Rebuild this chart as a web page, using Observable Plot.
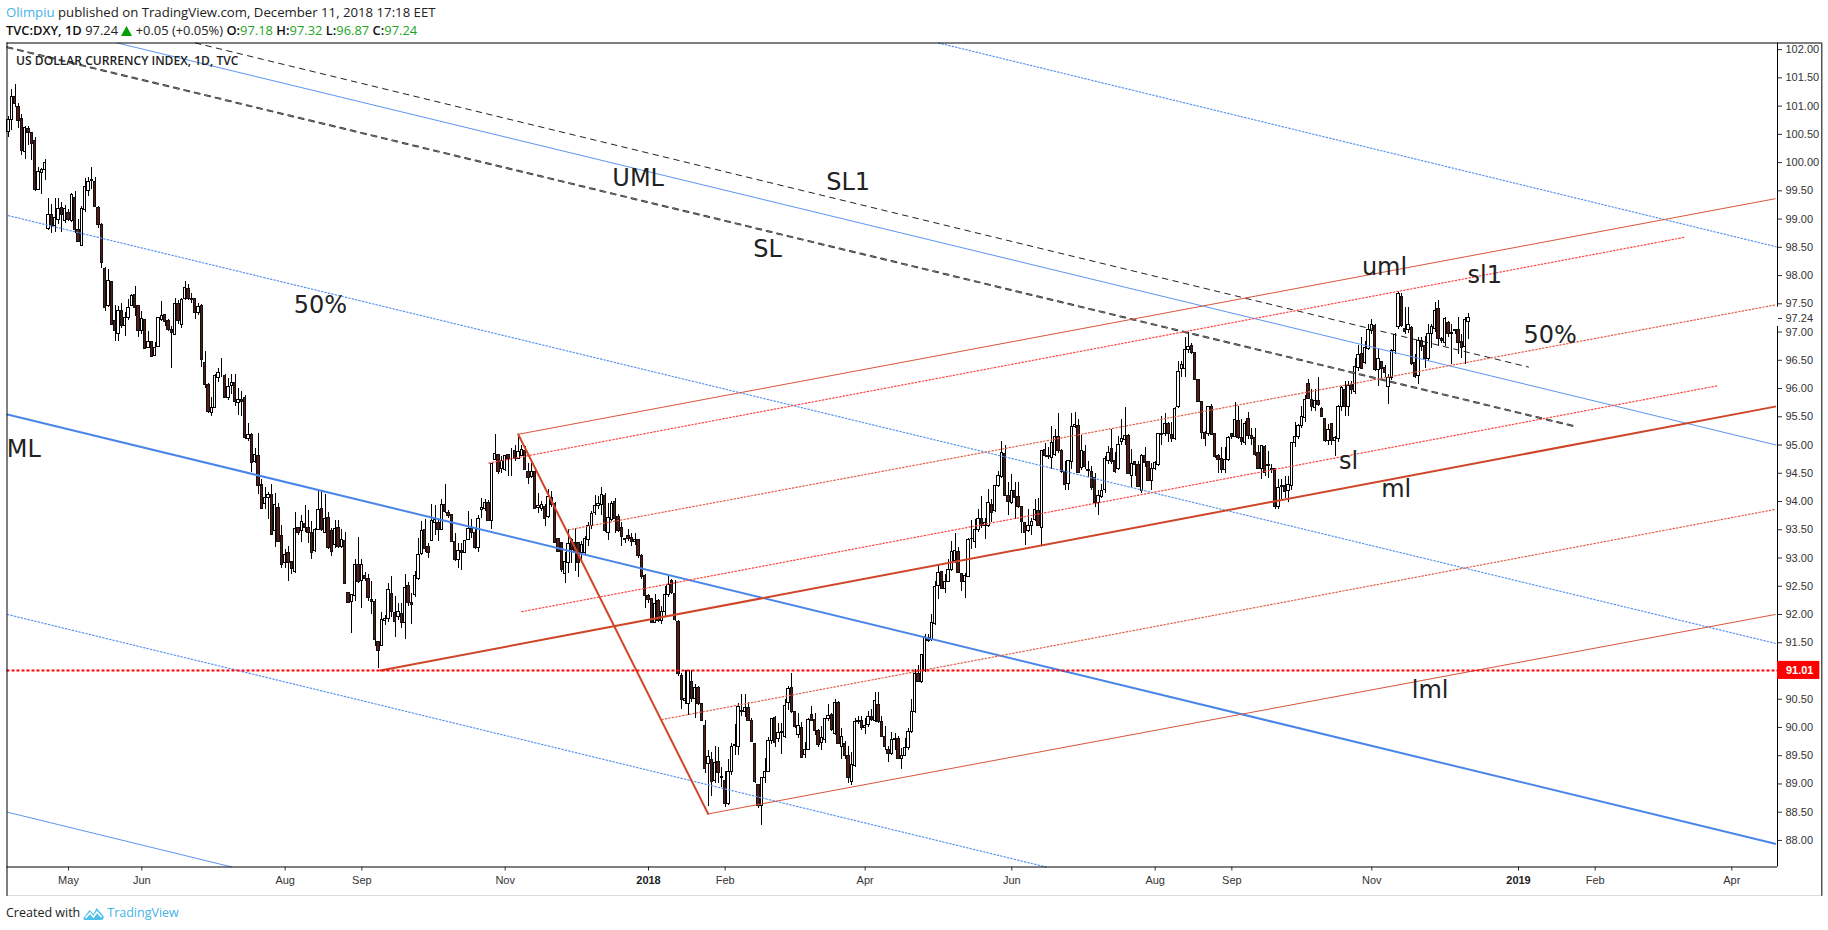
<!DOCTYPE html>
<html>
<head>
<meta charset="utf-8">
<script src="https://cdn.jsdelivr.net/npm/d3@7"></script>
<script src="https://cdn.jsdelivr.net/npm/@observablehq/plot@0.6"></script>
<style>
html,body{margin:0;padding:0;background:#fff;width:1828px;height:930px;overflow:hidden}
#head{height:42px;position:relative;font-family:"Open Sans",sans-serif;font-size:13.2px;color:#222}
#head div{position:absolute;left:6px;white-space:pre}
#l1{top:3px}
#l2{top:21px;font-size:12.9px}
#head .u{color:#45b3e7}
#head .b{font-weight:600;color:#111}
#head .g{color:#1ea51e}
#chart{height:854px;display:block}
#foot{position:absolute;left:6px;top:904px;font-family:"Open Sans",sans-serif;font-size:12.5px;color:#222;display:flex;align-items:center;gap:2px}
#foot span.tv{color:#45b3e7}
</style>
</head>
<body>
<div id="head">
<div id="l1"><span class="u">Olimpiu</span> published on TradingView.com, December 11, 2018 17:18 EET</div>
<div id="l2"><span class="b">TVC:DXY, 1D</span> 97.24 <svg width="11" height="10" viewBox="0 0 11 10" style="vertical-align:-1px"><path d="M5.5 0L11 10H0Z" fill="#00a000"/></svg> +0.05 (+0.05%) <span class="b">O:</span><span class="g">97.18</span> <span class="b">H:</span><span class="g">97.32</span> <span class="b">L:</span><span class="g">96.87</span> <span class="b">C:</span><span class="g">97.24</span></div>
</div>
<div id="chart"></div>
<div id="foot">Created with <svg width="23" height="16" viewBox="0 0 22 16"><path d="M1 13 L7 5 L11 9 L14 3 L21 11 Q22 15 18 15 L4 15 Q0 15 1 13Z" fill="#4fc0ea"/><path d="M3 13 L7.5 8 L11 12 L14.5 7 L19 12" fill="none" stroke="#fff" stroke-width="1.6"/></svg><span class="tv">TradingView</span></div>
<script>
const opens = [
100.55,100.76,101.16,100.98,100.77,100.18,100.6,100.53,100.38,99.52,99.82,99.86,98.83,99.08,98.87,98.98,99.2,98.96,99.11,98.96,
99.38,98.8,98.52,99.16,99.49,99.7,99.66,99.2,98.9,98.12,97.46,97.89,97.19,96.97,97.38,97.1,97.25,97.47,97.66,97.46,
97.01,97.22,96.71,96.82,96.57,96.73,97.21,97.3,97.19,97.04,96.94,97.5,97.13,97.58,97.77,97.58,97.58,97.34,97.47,96.45,
96.07,95.57,95.65,96.18,96.23,96.23,95.83,96.05,96.1,95.75,95.79,95.83,95.11,95.18,94.7,94.81,94.3,93.96,94.06,94.12,
93.47,93.88,93.39,92.91,93.09,92.93,92.76,93.53,93.47,93.6,93.53,93.45,93.12,93.49,93.87,93.45,93.71,93.47,93.23,93.53,
93.2,93.3,92.38,92.23,92.32,92.88,92.6,92.69,92.63,92.26,92.22,91.51,91.45,91.88,91.92,92.37,92.02,91.95,92.0,91.85,
92.51,92.2,92.35,92.62,93.07,93.5,93.19,93.3,93.62,93.62,93.5,93.94,93.8,93.76,93.29,92.97,93.12,93.09,93.32,93.52,
93.44,93.18,93.85,93.87,93.98,93.65,94.74,94.83,94.57,94.56,94.83,94.75,94.9,94.75,94.81,94.9,94.52,94.43,94.53,93.88,
93.87,93.91,93.72,94.06,93.95,93.33,93.26,92.72,92.92,93.31,93.27,93.26,93.09,93.09,93.32,93.56,93.8,93.92,93.94,94.09,
93.44,93.68,94.0,93.73,93.53,93.33,93.39,93.35,93.28,93.32,93.04,92.69,92.32,92.27,91.85,92.24,91.88,92.05,92.35,92.6,
92.37,91.86,90.91,90.47,90.42,90.8,90.5,90.7,90.41,90.03,89.35,89.43,89.05,89.38,89.1,89.05,88.65,89.21,89.67,89.65,
90.3,90.27,90.34,90.12,89.71,88.98,88.61,89.1,89.22,89.76,90.17,89.79,89.9,89.83,90.43,90.7,90.27,89.86,89.99,89.51,
89.61,90.22,90.13,89.94,89.72,89.78,90.15,90.22,89.89,90.43,89.66,89.71,89.5,89.04,89.32,90.09,90.12,89.99,90.05,90.18,
90.12,90.4,90.09,89.84,89.6,89.53,89.78,89.8,89.44,89.5,89.63,89.92,90.28,90.95,90.8,91.0,91.58,91.55,91.84,92.5,
92.75,92.46,92.58,92.78,92.94,93.1,92.71,92.57,92.67,93.34,93.28,93.5,93.69,93.56,93.56,93.94,93.83,94.28,94.43,94.85,
94.09,93.97,94.19,94.08,93.9,93.62,93.47,93.56,93.68,93.84,93.53,94.92,94.8,94.77,94.83,95.15,94.9,94.53,94.31,94.7,
95.32,95.34,94.6,94.88,94.56,94.53,94.41,93.98,94.08,94.2,94.72,94.93,94.72,94.58,95.05,95.09,95.16,94.45,94.7,94.64,
94.18,94.8,94.7,94.37,94.57,94.65,95.2,95.2,95.38,95.18,95.1,95.67,96.35,96.35,96.68,96.76,96.63,96.16,95.77,95.22,
95.2,95.68,95.2,94.81,94.75,94.55,94.73,95.2,95.15,95.42,95.12,95.04,95.46,95.16,95.12,94.86,94.58,94.96,94.64,94.57,
94.57,93.9,94.27,94.27,94.18,94.27,95.04,95.14,95.33,95.47,96.08,95.8,95.65,95.78,95.63,95.46,95.07,95.37,95.07,95.1,
95.67,95.98,95.68,96.06,95.94,96.36,96.62,96.46,96.7,97.01,97.1,96.32,96.47,96.36,96.03,96.19,96.66,97.09,97.62,97.05,
97.03,97.08,96.45,96.23,96.85,96.76,96.52,96.97,97.05,97.41,96.88,96.8,97.16,96.97,97.04,97.03,96.82,96.74,97.18];
const highs = [
100.82,101.29,101.38,101.05,100.85,100.64,100.64,100.53,100.44,99.92,99.9,100.06,99.36,99.26,99.36,99.36,99.29,99.24,99.17,99.45,
99.49,99.0,99.22,99.72,99.73,99.92,99.73,99.22,98.92,98.15,98.11,97.89,97.47,97.46,97.5,97.34,97.57,97.66,97.8,97.46,
97.36,97.22,97.01,96.82,96.82,97.25,97.54,97.31,97.22,97.1,97.6,97.55,97.6,97.9,97.84,97.69,97.58,97.5,97.49,96.66,
96.09,95.85,96.25,96.35,96.54,96.25,96.17,96.24,96.25,96.0,95.95,95.87,95.38,95.21,94.93,95.2,94.39,94.24,94.16,94.3,
94.14,93.97,93.57,93.15,93.2,92.93,93.8,93.53,93.76,93.93,93.84,93.65,93.53,94.18,94.18,94.12,93.8,93.53,93.67,93.66,
93.5,93.45,92.38,92.35,92.97,93.37,92.97,92.75,92.7,92.59,92.26,91.52,92.03,91.98,92.55,92.68,92.32,92.2,92.2,92.7,
92.57,92.38,92.76,93.34,93.65,93.69,93.26,93.94,93.93,93.68,94.03,94.3,93.84,93.76,93.43,93.26,93.26,93.3,93.83,93.68,
93.53,93.76,94.05,94.03,94.02,94.68,95.18,94.83,94.8,94.82,94.83,94.93,95.0,95.18,95.0,94.98,94.68,94.68,94.57,94.15,
94.0,93.94,94.21,94.18,93.98,93.33,93.26,93.09,93.5,93.35,93.53,93.26,93.3,93.38,93.62,93.82,94.1,94.08,94.24,94.15,
93.97,94.0,94.06,93.77,93.62,93.35,93.5,93.44,93.43,93.33,93.06,92.7,92.35,92.27,92.35,92.26,92.14,92.5,92.67,92.62,
92.6,91.9,90.96,91.0,91.0,91.0,90.76,90.73,90.43,90.13,89.6,89.55,89.66,89.65,89.3,89.22,89.44,89.72,90.06,90.43,
90.59,90.59,90.44,90.15,89.72,88.98,89.1,89.45,89.83,90.16,90.2,90.07,90.07,90.49,90.73,90.96,90.28,90.25,90.08,89.73,
90.16,90.38,90.25,89.96,90.02,90.16,90.4,90.25,90.49,90.46,89.99,89.75,89.66,89.55,90.16,90.19,90.19,90.15,90.28,90.32,
90.62,90.62,90.2,90.02,89.66,89.91,89.9,89.84,89.63,89.81,89.99,90.49,91.02,91.09,91.28,91.64,91.64,92.0,92.58,92.86,
92.76,92.7,92.98,93.3,93.44,93.19,92.71,92.73,93.34,93.66,93.68,93.85,94.08,93.7,94.22,94.04,94.28,94.53,95.06,95.0,
94.33,94.47,94.33,94.34,93.91,93.62,93.85,93.7,94.04,94.06,94.89,95.03,94.95,95.32,95.27,95.55,94.92,94.71,94.71,95.55,
95.57,95.45,95.17,95.0,94.71,94.62,94.5,94.2,94.3,94.8,94.98,95.27,94.86,95.15,95.45,95.67,95.18,94.92,94.71,94.71,
94.83,94.95,94.71,94.67,94.71,95.21,95.5,95.55,95.4,95.4,95.66,96.48,96.48,96.9,97.0,96.8,96.64,96.16,95.77,95.24,
95.68,95.71,95.21,94.83,94.96,94.96,95.15,95.2,95.76,95.68,95.45,95.42,95.58,95.3,95.3,95.0,95.0,95.0,94.89,94.66,
94.59,94.39,94.39,94.45,94.45,95.04,95.39,95.36,95.68,95.88,96.16,95.98,95.98,96.19,95.66,95.46,95.37,95.37,95.15,95.7,
96.04,96.13,96.12,96.13,96.54,96.77,96.9,96.84,97.13,97.23,97.13,96.69,96.48,96.4,96.25,96.69,96.98,97.72,97.69,97.43,
97.43,97.09,96.6,96.9,96.9,96.92,97.13,97.13,97.53,97.56,96.9,97.25,97.19,97.13,97.04,97.25,96.95,97.25,97.32];
const lows = [
100.44,100.57,100.97,100.61,100.12,100.06,100.3,100.04,99.49,99.5,99.43,99.69,98.8,98.74,98.77,98.9,98.77,98.93,98.96,98.94,
98.75,98.58,98.52,99.12,99.4,99.52,99.2,98.83,98.13,97.37,97.43,97.11,96.84,96.84,97.07,96.92,97.2,97.45,97.28,96.91,
96.95,96.69,96.7,96.56,96.56,96.72,97.19,97.1,97.01,96.36,96.94,97.13,97.07,97.55,97.55,97.5,97.23,97.3,96.38,96.0,
95.56,95.51,95.64,96.1,96.2,95.82,95.79,95.89,95.68,95.53,95.5,95.1,95.06,94.52,94.68,94.12,93.87,93.85,93.68,93.39,
93.19,93.28,92.81,92.81,92.58,92.7,92.73,93.4,93.28,93.45,93.26,92.97,93.09,93.48,93.47,93.45,93.15,93.03,93.16,93.17,
93.16,92.53,92.19,91.66,92.23,92.55,92.1,92.59,92.23,92.0,91.43,91.05,91.45,91.81,91.85,91.95,91.6,91.9,91.76,91.55,
92.15,91.82,92.3,92.6,93.05,93.1,92.99,93.3,93.4,93.3,93.48,93.79,93.7,93.27,92.94,92.81,92.77,93.08,93.31,93.35,
93.15,93.1,93.7,93.82,93.65,93.5,94.74,94.47,94.5,94.53,94.45,94.45,94.7,94.75,94.8,94.55,94.3,94.4,93.85,93.78,
93.82,93.55,93.7,93.9,93.25,93.09,92.75,92.54,92.73,92.9,92.76,92.65,92.95,93.05,93.2,93.5,93.75,93.85,93.75,93.46,
93.31,93.65,93.43,93.45,93.2,93.25,93.3,93.2,93.22,92.99,92.62,92.1,92.2,91.85,91.85,91.86,91.82,91.95,92.3,92.35,
91.88,90.9,90.32,90.4,90.22,90.45,90.15,90.39,90.1,89.19,88.6,88.77,89.0,89.0,88.93,88.59,88.61,89.15,89.5,89.5,
90.2,90.17,90.1,89.73,89.0,88.57,88.27,89.0,89.2,89.7,89.65,89.73,89.53,89.8,90.3,90.25,89.98,89.8,89.45,89.45,
89.6,90.1,89.85,89.64,89.6,89.72,90.1,89.93,89.85,89.7,89.44,89.43,89.01,88.97,89.3,90.05,89.95,89.87,90.0,90.1,
90.08,90.07,89.82,89.6,89.38,89.5,89.6,89.43,89.26,89.48,89.6,89.9,90.25,90.79,90.78,90.98,91.5,91.52,91.8,92.27,
92.44,92.38,92.56,92.76,92.9,92.72,92.4,92.28,92.65,93.15,93.16,93.45,93.52,93.33,93.54,93.63,93.8,94.25,94.41,94.08,
93.75,93.95,93.68,93.88,93.44,93.23,93.45,93.39,93.65,93.55,93.23,94.78,94.75,94.57,94.8,94.85,94.5,94.2,94.2,94.56,
95.3,94.5,94.55,94.56,94.42,94.2,93.9,93.75,94.05,94.15,94.65,94.65,94.5,94.55,95.0,95.0,94.49,94.25,94.45,94.24,
94.15,94.6,94.35,94.19,94.55,94.62,95.0,95.15,95.04,95.05,95.08,95.65,96.19,96.19,96.62,96.6,96.14,95.75,95.1,94.98,
95.15,95.16,94.77,94.5,94.5,94.49,94.7,95.1,95.13,95.1,95.0,95.0,95.1,95.0,94.8,94.56,94.39,94.45,94.4,94.5,
93.85,93.85,94.03,94.05,93.98,94.2,94.96,95.1,95.3,95.4,95.8,95.6,95.6,95.68,95.48,95.05,95.0,95.0,94.8,95.05,
95.6,95.5,95.5,95.9,95.9,96.3,96.33,96.42,96.68,96.95,96.3,96.03,96.15,96.2,95.72,96.15,96.6,97.05,97.08,96.95,
96.97,96.41,96.18,96.07,96.65,96.36,96.48,96.7,97.0,96.75,96.8,96.75,96.9,96.42,96.95,96.6,96.54,96.42,96.87];
const closes = [
100.76,101.16,101.03,100.73,100.2,100.61,100.53,100.33,99.52,99.83,99.87,100.0,99.08,98.87,99.02,99.18,99.07,99.17,98.98,99.42,
98.8,98.6,99.18,99.57,99.66,99.67,99.22,98.9,98.22,97.43,97.9,97.13,97.01,97.37,97.11,97.24,97.43,97.63,97.43,97.01,
97.23,96.7,96.82,96.56,96.72,97.24,97.29,97.18,97.03,96.98,97.5,97.19,97.56,97.78,97.58,97.57,97.34,97.44,96.5,96.06,
95.58,95.65,96.23,96.28,96.23,95.83,96.03,96.1,95.77,95.79,95.76,95.12,95.18,94.69,94.83,94.27,93.87,94.06,94.11,93.41,
93.94,93.28,92.87,93.06,92.91,92.81,93.52,93.45,93.63,93.53,93.44,93.09,93.5,93.85,93.5,93.69,93.18,93.1,93.52,93.2,
93.32,92.54,92.21,92.34,92.88,92.58,92.88,92.63,92.3,92.23,91.55,91.35,91.91,91.92,92.43,92.05,91.86,92.04,91.85,92.47,
92.21,92.16,92.68,93.05,93.47,93.16,93.09,93.65,93.68,93.5,93.94,93.81,93.74,93.28,92.97,93.13,93.09,93.3,93.52,93.44,
93.18,93.69,93.88,93.97,93.65,94.66,94.84,94.53,94.72,94.81,94.75,94.75,94.75,94.87,94.92,94.55,94.42,94.53,93.87,93.92,
93.94,93.69,94.08,93.94,93.26,93.11,92.78,92.93,93.25,93.15,93.09,92.91,93.23,93.33,93.56,93.78,93.92,93.95,94.12,93.47,
93.71,93.96,93.69,93.47,93.37,93.31,93.34,93.29,93.32,93.03,92.66,92.32,92.26,91.85,92.19,91.88,92.05,92.35,92.53,92.38,
91.9,90.95,90.48,90.51,91.0,90.5,90.7,90.41,90.12,89.26,89.47,89.03,89.37,89.2,89.12,88.65,89.21,89.65,89.69,90.36,
90.28,90.34,90.12,89.75,89.03,88.61,89.1,89.21,89.76,90.15,89.73,89.9,89.92,90.38,90.68,90.27,90.0,90.02,89.46,89.61,
90.14,90.12,89.94,89.69,89.81,90.15,90.21,89.95,90.43,89.71,89.83,89.5,89.1,89.34,90.09,90.12,89.99,90.03,90.19,90.14,
90.46,90.09,89.84,89.65,89.53,89.78,89.8,89.45,89.5,89.63,89.92,90.28,90.95,90.81,91.28,91.6,91.53,91.85,92.49,92.73,
92.46,92.58,92.79,93.1,93.13,92.74,92.57,92.69,93.32,93.33,93.5,93.69,93.56,93.62,93.97,93.8,94.28,94.46,94.86,94.09,
94.0,94.19,94.06,93.9,93.63,93.45,93.56,93.63,93.85,93.56,94.89,94.8,94.78,95.04,95.15,94.89,94.53,94.3,94.71,95.32,
95.35,94.5,94.89,94.61,94.54,94.24,93.97,94.09,94.19,94.75,94.86,94.7,94.53,95.0,95.1,95.16,94.49,94.67,94.64,94.26,
94.81,94.69,94.37,94.58,94.68,95.2,95.18,95.38,95.2,95.1,95.64,96.29,96.41,96.68,96.74,96.63,96.15,95.76,95.22,95.1,
95.67,95.18,94.79,94.74,94.55,94.74,95.12,95.15,95.45,95.12,95.05,95.37,95.16,95.1,94.83,94.58,94.98,94.5,94.63,94.56,
93.9,94.24,94.26,94.17,94.3,95.03,95.15,95.33,95.5,95.8,95.82,95.68,95.78,95.7,95.5,95.07,95.27,95.07,95.12,95.68,
96.01,95.67,96.04,95.97,96.38,96.6,96.35,96.72,97.04,97.13,96.32,96.52,96.34,96.27,96.19,96.66,96.94,97.68,97.1,97.0,
97.13,96.43,96.2,96.84,96.73,96.52,96.97,97.09,97.38,96.88,96.84,97.23,96.97,96.98,97.01,96.81,96.72,97.22,97.24];

// x axis: bar numbers of the month starts and their labels
const monthBars = [18,40,83,106,149,215,257,301,344,367,409,476,517];
const monthLabels = ["May","Jun","Aug","Sep","Nov","Feb","Apr","Jun","Aug","Sep","Nov","Feb","Apr"];
const yearBars = [192,453];
const yearLabels = ["2018","2019"];
const priceTicks = [88,88.5,89,89.5,90,90.5,91.5,92,92.5,93,93.5,94,94.5,95,95.5,96,96.5,97,97.24,97.5,98,98.5,99,99.5,100,100.5,101,101.5,102];
const supportLevel = 91.01;

// Andrews pitchfork drawn on the chart: [bar, price] end points
const blueML = [[-0.3,95.54],[530,87.94]];
const blueUML = [[32.7,102.117],[530.3,95.0]];
const blueSL = [[-0.3,102.04],[470,95.33]];
const blueSL1 = [[56.1,102.117],[456,96.38]];
const blueUp50 = [[0,99.06],[530,91.49]];
const blueTop = [[279,102.117],[530.3,98.51]];
const blueLow50 = [[-0.3,92.0],[311.3,87.53]];
const blueLowest = [[-0.3,88.5],[67,87.53]];
const redML = [[111.6,91.01],[530,95.68]];
const redUML = [[152.9,95.19],[530,99.36]];
const redLML = [[209.9,88.47],[530,92.0]];
const redSwing = [[152.9,95.19],[209.9,88.47]];
const redSL1 = [[144.1,94.68],[503,98.68]];
const red50Up = [[168.1,93.5],[530,97.48]];
const redSL = [[154,92.05],[512.8,96.05]];
const red50Low = [[196,90.14],[530,93.86]];

const noteText = ["UML","SL1","SL","50%","ML","uml","sl1","50%","sl","ml","lml"];
const noteBar = [188.9,251.9,227.7,93.6,4.6,412.8,442.9,462.5,402,416.3,426.5];
const notePrice = [99.73,99.65,98.47,97.48,94.92,98.14,98.01,96.94,94.71,94.22,90.65];

const bars = d3.range(opens.length).map(i => ({i, o:opens[i], h:highs[i], l:lows[i], c:closes[i]}));
const notes = noteText.map((t,k) => ({t, x:noteBar[k], y:notePrice[k]}));

const ln = (pts, opts) => Plot.line(pts, {x:d=>d[0], y:d=>d[1], ...opts});
const BLUE = "#4a86e8", REDD = "#cf4527";
const DOT = "1.5 2", DASH2 = "5 5.7";
const domX = [-0.45,530.7], domY = [87.53,102.117];
const edgeRight = 544, edgeBottom = 87.01;

const chart = Plot.plot({
  width:1828, height:854,
  marginLeft:6.5, marginRight:51, marginTop:0.5, marginBottom:29.5,
  x:{domain:domX, axis:null},
  y:{domain:domY, axis:null},
  style:{background:"#fff", fontFamily:'"Liberation Sans",Arial,sans-serif'},
  marks:[
    Plot.ruleX(bars,{x:"i",y1:"l",y2:"h",stroke:"#000",strokeWidth:1,shapeRendering:"crispEdges"}),
    Plot.rect(bars.filter(d=>d.c>=d.o),{x1:d=>d.i-0.33,x2:d=>d.i+0.33,y1:"o",y2:"c",fill:"#fff",stroke:"#000",strokeWidth:1,shapeRendering:"crispEdges"}),
    Plot.rect(bars.filter(d=>d.c<d.o),{x1:d=>d.i-0.33,x2:d=>d.i+0.33,y1:"o",y2:"c",fill:"#5c1a14",stroke:"#111",strokeWidth:1,shapeRendering:"crispEdges"}),

    ln(blueML,{stroke:BLUE,strokeWidth:2}),
    ln(blueUML,{stroke:"#5b95f0",strokeWidth:1}),
    ln(blueLowest,{stroke:"#5b95f0",strokeWidth:1}),
    ln(blueUp50,{stroke:"#5b95f0",strokeWidth:1.2,strokeDasharray:DOT}),
    ln(blueTop,{stroke:"#5b95f0",strokeWidth:1.2,strokeDasharray:DOT}),
    ln(blueLow50,{stroke:"#5b95f0",strokeWidth:1.2,strokeDasharray:DOT}),
    ln(blueSL,{stroke:"#222",strokeWidth:2,strokeDasharray:DASH2}),
    ln(blueSL,{stroke:"#fff",strokeWidth:0.4,strokeDasharray:DASH2}),
    ln(blueSL1,{stroke:"#222",strokeWidth:1,strokeDasharray:"5.5 5.2"}),

    ln(redML,{stroke:REDD,strokeWidth:2}),
    ln(redSwing,{stroke:REDD,strokeWidth:2}),
    ln(redUML,{stroke:"#d9553c",strokeWidth:1}),
    ln(redLML,{stroke:"#d9553c",strokeWidth:1}),
    ln(redSL1,{stroke:"#f44",strokeWidth:1.2,strokeDasharray:DOT}),
    ln(redSL,{stroke:"#f44",strokeWidth:1.2,strokeDasharray:DOT}),
    ln(red50Up,{stroke:"#e2604a",strokeWidth:1.2,strokeDasharray:DOT}),
    ln(red50Low,{stroke:"#e2604a",strokeWidth:1.2,strokeDasharray:DOT}),
    Plot.ruleY([supportLevel],{x1:domX[0],x2:domX[1],stroke:"#f00",strokeWidth:2,strokeDasharray:"3 2"}),

    Plot.text(notes,{x:"x",y:"y",text:"t",fontSize:24,fill:"#222",fontFamily:"DejaVu Sans"}),
    Plot.text(["US DOLLAR CURRENCY INDEX, 1D, TVC"],{frameAnchor:"top-left",dx:9,dy:13,textAnchor:"start",fontSize:12.1,fontWeight:600,fill:"#222",fontFamily:"Open Sans"}),

    // frame and axis lines
    Plot.ruleX([domX[0],edgeRight],{y1:edgeBottom,y2:domY[1],stroke:"#000",strokeWidth:1}),
    Plot.ruleY([domY[1],edgeBottom],{x1:domX[0],x2:edgeRight,stroke:"#000",strokeWidth:1}),
    Plot.ruleY([domY[0]],{x1:domX[0],x2:domX[1],stroke:"#000",strokeWidth:1}),
    Plot.ruleX([domX[1]],{y1:domY[1],y2:97.44,stroke:"#000",strokeWidth:1}),
    Plot.ruleX([domX[1]],{y1:97.1,y2:domY[0],stroke:"#000",strokeWidth:1}),

    Plot.axisY({anchor:"right",ticks:priceTicks,tickFormat:d=>d.toFixed(2),tickSize:4,tickPadding:4,fontSize:11,color:"#333"}),
    Plot.axisX({anchor:"bottom",ticks:monthBars,tickFormat:d=>monthLabels[monthBars.indexOf(d)],tickSize:4,tickPadding:5,fontSize:11,color:"#333"}),
    Plot.axisX({anchor:"bottom",ticks:yearBars,tickFormat:d=>yearLabels[yearBars.indexOf(d)],tickSize:4,tickPadding:5,fontSize:11,fontWeight:"bold",color:"#222"}),

    Plot.rect([supportLevel],{x1:domX[1],x2:edgeRight-0.6,y1:d=>d-0.16,y2:d=>d+0.16,fill:"#f00"}),
    Plot.text([supportLevel],{x:(domX[1]+edgeRight)/2,y:d=>d,text:d=>d.toFixed(2),fill:"#fff",fontWeight:"bold",fontSize:11})
  ]
});
document.getElementById("chart").appendChild(chart);
</script>
</body>
</html>
